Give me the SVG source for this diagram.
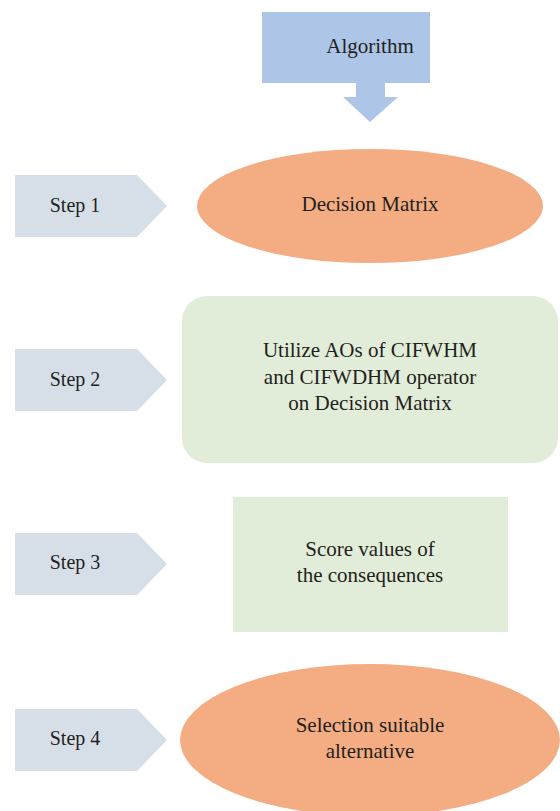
<svg xmlns="http://www.w3.org/2000/svg" width="560" height="811" viewBox="0 0 560 811">
<style>
text{font-family:'Liberation Serif','Times New Roman','DejaVu Serif',serif;font-size:21px;fill:#231F20;text-anchor:middle}
text.lbl{font-size:20px}
.step{fill:#D6DFE8}
.orange{fill:#F4AD82}
.green{fill:#E2EDD9}
.blue{fill:#ADC6E8}
</style>
<rect width="560" height="811" fill="#FFFFFF"/>
<g id="algorithm">
<rect class="blue" x="262" y="12" width="168" height="71"/>
<text x="370" y="53">Algorithm</text>
</g>
<g id="connectors">
<polygon class="blue" points="356,83 385,83 385,97 398,97 370,122 343,97 356,97"/>
</g>
<g id="step1">
<polygon class="step" points="15,175 137,175 167,206 137,237 15,237"/>
<text class="lbl" x="75" y="212">Step 1</text>
</g>
<g id="decision-matrix">
<ellipse class="orange" cx="370" cy="206" rx="173" ry="57"/>
<text x="370" y="211">Decision Matrix</text>
</g>
<g id="step2">
<polygon class="step" points="15,349 137,349 167,380 137,411 15,411"/>
<text class="lbl" x="75" y="386">Step 2</text>
</g>
<g id="utilize">
<rect class="green" x="182" y="296" width="376" height="167" rx="25"/>
<text x="370" y="357">Utilize AOs of CIFWHM</text>
<text x="370" y="384">and CIFWDHM operator</text>
<text x="370" y="410">on Decision Matrix</text>
</g>
<g id="step3">
<polygon class="step" points="15,533 137,533 167,564 137,595 15,595"/>
<text class="lbl" x="75" y="569">Step 3</text>
</g>
<g id="score">
<rect class="green" x="233" y="497" width="275" height="135"/>
<text x="370" y="556">Score values of</text>
<text x="370" y="582">the consequences</text>
</g>
<g id="step4">
<polygon class="step" points="15,709 137,709 167,740 137,771 15,771"/>
<text class="lbl" x="75" y="745">Step 4</text>
</g>
<g id="selection">
<ellipse class="orange" cx="370" cy="740" rx="190" ry="76"/>
<text x="370" y="732">Selection suitable</text>
<text x="370" y="758">alternative</text>
</g>
</svg>
